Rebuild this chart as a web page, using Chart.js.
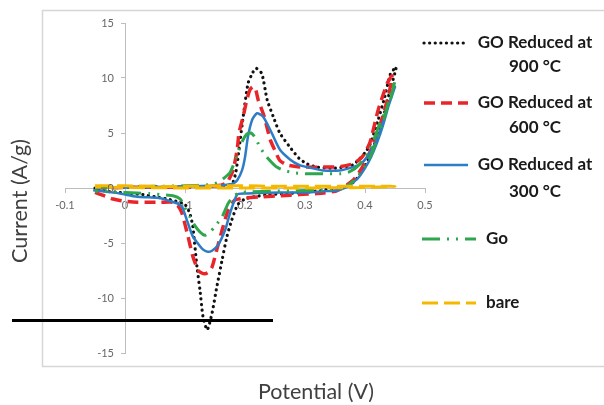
<!DOCTYPE html>
<html>
<head>
<meta charset="utf-8">
<script src="https://cdn.jsdelivr.net/npm/chart.js@4/dist/chart.umd.min.js"></script>
<style>
  html, body { margin:0; padding:0; background:#fff; }
  #wrap { width:604px; height:405px; position:relative; }
</style>
</head>
<body>
<div id="wrap"><canvas id="cv" width="604" height="405"></canvas></div>
<script>
// ==========================
// DATA (potential V, current A/g) - each curve is a closed CV loop
// ==========================
const legendLines = [
  ["GO Reduced at", "900 °C"],
  ["GO Reduced at", "600 °C"],
  ["GO Reduced at", "300 °C"],
  ["Go"],
  ["bare"]
];

const xTicks = [-0.1, 0, 0.1, 0.2, 0.3, 0.4, 0.5];
const yTicks = [-15, -10, -5, 0, 5, 10, 15];

// 900 °C
const v900 = [-0.05, 0, 0.05, 0.1, 0.14, 0.16, 0.175, 0.18, 0.185, 0.19, 0.197, 0.205, 0.212, 0.218, 0.228, 0.237, 0.247, 0.258, 0.275, 0.29, 0.303, 0.32, 0.35, 0.38, 0.39, 0.4, 0.408, 0.422, 0.433, 0.442, 0.452,
  0.44, 0.43, 0.42, 0.41, 0.4, 0.39, 0.38, 0.365, 0.35, 0.33, 0.3, 0.27, 0.24, 0.215, 0.2, 0.188, 0.178, 0.17, 0.162, 0.153, 0.145, 0.137, 0.13, 0.125, 0.12, 0.113, 0.108, 0.1, 0.085, 0.07, 0.05, 0.03, 0.01, -0.01, -0.03, -0.05];
const i900 = [0, 0.05, 0.1, 0.1, 0.15, 0.2, 0.3, 0.5, 1.5, 3.5, 6.5, 9.5, 10.4, 10.9, 10.4, 8.0, 6.5, 5.0, 3.7, 2.7, 2.2, 1.9, 1.8, 2.1, 2.6, 3.2, 3.9, 6.2, 8.3, 10.3, 11.0,
  8.5, 6.3, 4.6, 3.2, 2.0, 1.1, 0.5, 0.1, -0.05, -0.2, -0.4, -0.5, -0.6, -0.8, -1.0, -1.5, -2.9, -4.4, -6.5, -9.0, -11.4, -12.9, -11.7, -9.3, -7.2, -3.5, -2.3, -1.5, -1.2, -1.0, -0.8, -0.6, -0.5, -0.4, -0.3, -0.1];

// 600 °C
const v600 = [-0.05, 0, 0.05, 0.1, 0.14, 0.16, 0.17, 0.18, 0.187, 0.19, 0.197, 0.203, 0.208, 0.213, 0.218, 0.222, 0.232, 0.242, 0.25, 0.258, 0.27, 0.285, 0.3, 0.33, 0.36, 0.38, 0.395, 0.408, 0.422, 0.437, 0.445,
  0.44, 0.43, 0.42, 0.41, 0.4, 0.39, 0.38, 0.365, 0.35, 0.32, 0.29, 0.26, 0.23, 0.2, 0.19, 0.183, 0.172, 0.162, 0.153, 0.145, 0.138, 0.133, 0.127, 0.122, 0.113, 0.105, 0.095, 0.088, 0.08, 0.06, 0.04, 0.02, 0, -0.02, -0.035, -0.05];
const i600 = [0, 0.05, 0.1, 0.1, 0.15, 0.25, 0.5, 1.6, 3.5, 5.0, 6.5, 8.0, 8.9, 9.2, 8.9, 8.0, 6.5, 4.4, 3.4, 2.5, 2.1, 1.95, 1.9, 1.9, 1.95, 2.2, 2.8, 4.1, 7.1, 9.5, 10.2,
  8.6, 6.6, 4.9, 3.5, 2.3, 1.4, 0.7, 0.1, -0.3, -0.5, -0.6, -0.7, -0.8, -0.9, -1.0, -1.1, -2.0, -3.8, -5.6, -7.2, -7.7, -7.8, -7.7, -7.5, -6.2, -4.4, -2.3, -1.6, -1.3, -1.3, -1.3, -1.3, -1.2, -1.0, -0.7, -0.4];

// 300 °C
const v300 = [-0.05, 0, 0.05, 0.1, 0.15, 0.17, 0.18, 0.187, 0.195, 0.2, 0.205, 0.212, 0.22, 0.23, 0.242, 0.258, 0.275, 0.29, 0.303, 0.33, 0.358, 0.38, 0.393, 0.403, 0.42, 0.437, 0.45,
  0.44, 0.43, 0.42, 0.41, 0.4, 0.39, 0.38, 0.37, 0.355, 0.33, 0.3, 0.26, 0.22, 0.2, 0.187, 0.175, 0.167, 0.155, 0.145, 0.138, 0.13, 0.125, 0.113, 0.103, 0.095, 0.087, 0.07, 0.058, 0.04, 0.02, 0, -0.008, -0.03, -0.053];
const i300 = [0, 0.05, 0.1, 0.15, 0.2, 0.3, 0.4, 0.7, 1.6, 2.8, 4.7, 6.2, 6.8, 6.5, 5.3, 3.5, 2.6, 2.1, 1.9, 1.6, 1.6, 1.9, 2.2, 2.8, 4.4, 7.1, 9.2,
  7.6, 5.7, 4.1, 2.8, 1.8, 1.0, 0.5, 0.1, -0.2, -0.3, -0.4, -0.4, -0.45, -0.5, -0.6, -2.3, -3.8, -5.2, -5.7, -5.8, -5.6, -5.3, -4.4, -2.9, -1.7, -1.4, -1.1, -0.9, -0.85, -0.8, -0.6, -0.5, -0.35, -0.2];

// Go
const vGo = [-0.05, 0, 0.05, 0.1, 0.14, 0.155, 0.165, 0.175, 0.18, 0.187, 0.195, 0.203, 0.21, 0.217, 0.225, 0.235, 0.245, 0.253, 0.265, 0.28, 0.3, 0.33, 0.36, 0.375, 0.39, 0.408, 0.425, 0.442, 0.45,
  0.44, 0.43, 0.42, 0.41, 0.4, 0.39, 0.38, 0.37, 0.35, 0.32, 0.28, 0.24, 0.21, 0.19, 0.18, 0.172, 0.162, 0.15, 0.14, 0.133, 0.125, 0.115, 0.108, 0.1, 0.092, 0.08, 0.06, 0.04, 0.02, 0, -0.02, -0.05];
const iGo = [0.05, 0.1, 0.15, 0.2, 0.3, 0.5, 0.9, 1.4, 2.0, 3.0, 4.2, 4.9, 5.0, 4.6, 3.7, 2.9, 2.3, 1.9, 1.6, 1.4, 1.3, 1.3, 1.3, 1.5, 2.1, 3.5, 5.9, 8.0, 9.8,
  8.0, 6.0, 4.4, 3.0, 2.0, 1.2, 0.6, 0.2, -0.1, -0.2, -0.25, -0.3, -0.35, -0.45, -0.8, -1.4, -2.6, -3.5, -4.1, -4.3, -4.0, -3.3, -2.6, -1.8, -1.0, -0.7, -0.6, -0.5, -0.45, -0.4, -0.35, -0.3];

// bare electrode
const vBare = [-0.05, 0, 0.05, 0.1, 0.15, 0.2, 0.25, 0.3, 0.35, 0.4, 0.45, 0.4, 0.3, 0.2, 0.1, 0, -0.05];
const iBare = [0.2, 0.2, 0.15, 0.15, 0.2, 0.2, 0.15, 0.15, 0.15, 0.15, 0.15, 0.05, 0.0, 0.0, 0.0, 0.05, 0.1];

function pts(vs, is){
  return vs.map((v, k) => ({ x: v, y: is[k] }));
}

// ==========================
// STYLES
// ==========================
const styles = [
  { color: "#111111", width: 3.2, dash: [0.1, 5.5], cap: "round" },
  { color: "#e8262a", width: 3.5, dash: [11, 6], cap: "butt" },
  { color: "#2d7cc6", width: 2.5, dash: [], cap: "butt" },
  { color: "#2ea64e", width: 3, dash: [18, 7, 2, 7, 2, 7], cap: "butt" },
  { color: "#f5b800", width: 3, dash: [16, 6], cap: "butt" }
];
const tickFont = "11px Lato";
const tickColor = "#666666";
const series = [pts(v900, i900), pts(v600, i600), pts(v300, i300), pts(vGo, iGo), pts(vBare, iBare)];

const datasets = series.map((d, k) => ({
  label: legendLines[k].join(" "),
  data: d,
  showLine: true,
  fill: false,
  pointRadius: 0,
  tension: 0.2,
  borderColor: styles[k].color,
  borderWidth: styles[k].width,
  borderDash: styles[k].dash,
  borderCapStyle: styles[k].cap,
  borderJoinStyle: "round",
  order: 5 - k
}));

// ==========================
// PLUGIN: frame, axis titles, y tick labels, legend, marker line
// ==========================
const decor = {
  id: "decor",
  beforeDraw(chart){
    const c = chart.ctx;
    c.save();
    c.fillStyle = "#fff";
    c.fillRect(0, 0, chart.width, chart.height);
    c.strokeStyle = "#d6d6d6";
    c.lineWidth = 1.5;
    c.strokeRect(42.5, 10.5, 620, 356);
    c.restore();
  },
  afterDraw(chart){
    const c = chart.ctx;
    const xs = chart.scales.x, ys = chart.scales.y;

    // y tick labels (left of the centred axis)
    c.save();
    c.font = tickFont;
    c.fillStyle = tickColor;
    c.textAlign = "right";
    c.textBaseline = "middle";
    const axisX = xs.getPixelForValue(0);
    ys.ticks.forEach(t => {
      c.fillText(String(t.value), axisX - 11, ys.getPixelForValue(t.value));
    });
    c.restore();

    // axis titles
    c.save();
    c.fillStyle = "#404040";
    c.font = "21.5px Lato";
    c.textAlign = "center";
    c.textBaseline = "middle";
    c.fillText("Potential (V)", 316, 392);
    c.translate(20, 201);
    c.rotate(-Math.PI / 2);
    c.fillText("Current (A/g)", 0, 0);
    c.restore();

    // legend
    const rows = [43, 103, 165, 239, 303];
    const second = [67, 128, 192];
    c.save();
    c.font = "bold 17px Lato";
    c.fillStyle = "#1a1a1a";
    c.textBaseline = "middle";
    legendLines.forEach((lines, k) => {
      const s = styles[k];
      c.beginPath();
      c.strokeStyle = s.color;
      c.lineWidth = s.width;
      c.setLineDash(s.dash);
      c.lineCap = s.cap;
      c.moveTo(k < 3 ? 424 : 422, rows[k]);
      c.lineTo(k < 3 ? 468 : 476, rows[k]);
      c.stroke();
      c.setLineDash([]);
      if(lines.length > 1){
        c.textAlign = "center";
        c.fillText(lines[0], 535, rows[k]);
        c.fillText(lines[1], 535, second[k]);
      } else {
        c.textAlign = "left";
        c.fillText(lines[0], 486, rows[k]);
      }
    });
    c.restore();

    // black marker line across the figure
    c.save();
    c.strokeStyle = "#000";
    c.lineWidth = 3;
    c.beginPath();
    c.moveTo(12, 320.5);
    c.lineTo(273, 320.5);
    c.stroke();
    c.restore();
  }
};

// ==========================
// CHART
// ==========================
new Chart(document.getElementById("cv"), {
  type: "scatter",
  data: { datasets },
  options: {
    responsive: false,
    animation: false,
    devicePixelRatio: 1,
    layout: { padding: { left: 65, right: 179, top: 23, bottom: 52 } },
    plugins: { legend: { display: false }, tooltip: { enabled: false } },
    scales: {
      x: {
        type: "linear",
        min: -0.1, max: 0.5,
        position: { y: 0 },
        afterBuildTicks: s => { s.ticks = xTicks.map(v => ({ value: v })); },
        ticks: {
          padding: 7,
          color: tickColor,
          font: { family: "Lato", size: 11 },
          maxRotation: 0,
          callback: v => v === 0 ? "0" : (+v).toFixed(1)
        },
        grid: { drawOnChartArea: false, tickLength: 4, color: "#bdbdbd" },
        border: { color: "#bdbdbd", width: 1 }
      },
      y: {
        type: "linear",
        min: -15, max: 15,
        position: { x: 0 },
        afterBuildTicks: s => { s.ticks = yTicks.map(v => ({ value: v })); },
        ticks: { display: false },
        grid: { drawOnChartArea: false, tickLength: 4, color: "#bdbdbd" },
        border: { color: "#bdbdbd", width: 1 }
      }
    }
  },
  plugins: [decor]
});
</script>
</body>
</html>
